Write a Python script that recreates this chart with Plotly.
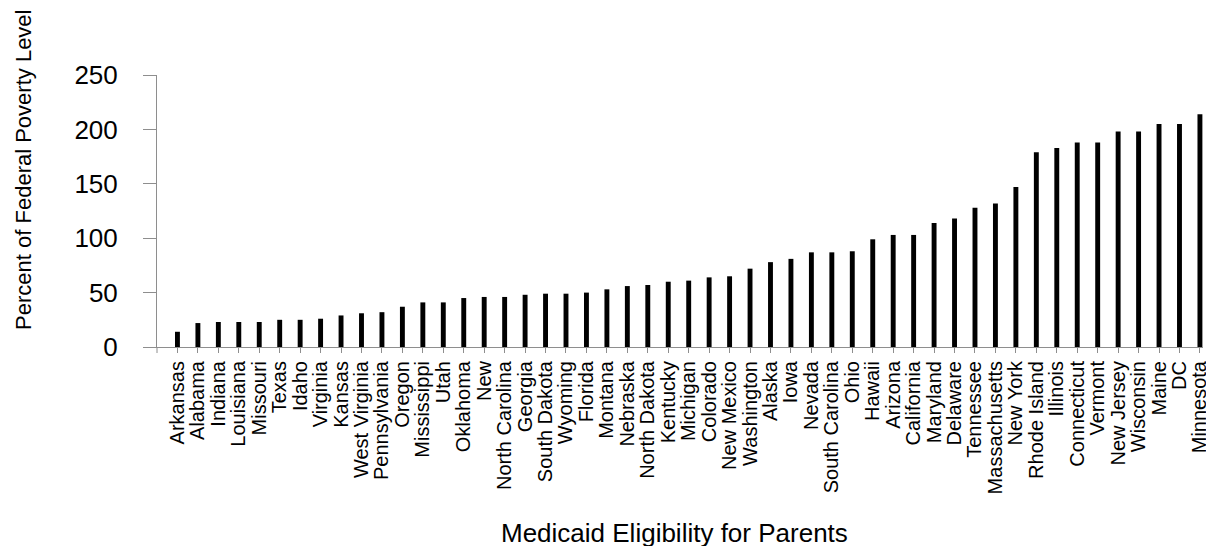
import plotly.graph_objects as go

states = ["Arkansas", "Alabama", "Indiana", "Louisiana", "Missouri", "Texas", "Idaho",
          "Virginia", "Kansas", "West Virginia", "Pennsylvania", "Oregon", "Mississippi",
          "Utah", "Oklahoma", "New", "North Carolina", "Georgia", "South Dakota", "Wyoming",
          "Florida", "Montana", "Nebraska", "North Dakota", "Kentucky", "Michigan", "Colorado",
          "New Mexico", "Washington", "Alaska", "Iowa", "Nevada", "South Carolina", "Ohio",
          "Hawaii", "Arizona", "California", "Maryland", "Delaware", "Tennessee",
          "Massachusetts", "New York", "Rhode Island", "Illinois", "Connecticut", "Vermont",
          "New Jersey", "Wisconsin", "Maine", "DC", "Minnesota"]

eligibility = [14, 22, 23, 23, 23, 25, 25, 26, 29, 31, 32, 37, 41, 41, 45, 46, 46, 48, 49, 49,
               50, 53, 56, 57, 60, 61, 64, 65, 72, 78, 81, 87, 87, 88, 99, 103, 103, 114, 118,
               128, 132, 147, 179, 183, 188, 188, 198, 198, 205, 205, 214]

y_ticks = [0, 50, 100, 150, 200, 250]

y_title = "Percent of Federal Poverty Level"
x_title = "Medicaid Eligibility for Parents"

FONT = "Liberation Sans, Arial, Helvetica, sans-serif"
AXIS = "#8e8e8e"

# page offset of the figure (default body margin)
OFF = 8
PLOT_L, PLOT_R, PLOT_T, PLOT_B = 157, 1210, 75, 347
PW, PH = PLOT_R - PLOT_L, PLOT_B - PLOT_T

fig = go.Figure(
    go.Bar(x=states, y=eligibility, width=0.24, marker=dict(color="black", line=dict(width=0)))
)

fig.update_layout(
    width=1214 - OFF, height=546 - OFF,
    margin=dict(l=PLOT_L - OFF, r=1214 - PLOT_R, t=PLOT_T - OFF, b=546 - PLOT_B, pad=0),
    paper_bgcolor="white", plot_bgcolor="white",
    font=dict(family=FONT, color="black"),
    showlegend=False,
    shapes=[
        # boundary tick of the category axis, at the corner under the value axis
        dict(type="line", xref="paper", yref="paper", x0=0, x1=0, y0=0, y1=-6 / PH,
             line=dict(color=AXIS, width=1)),
    ],
    annotations=[
        dict(text=y_title, xref="paper", yref="paper",
             x=(22 - PLOT_L) / PW, y=(PLOT_B - 170) / PH, textangle=-90,
             showarrow=False, xanchor="center", yanchor="middle",
             font=dict(size=22, family=FONT, color="black")),
        dict(text=x_title, xref="paper", yref="paper",
             x=(678 - PLOT_L) / PW, y=(PLOT_B - 533) / PH,
             showarrow=False, xanchor="center", yanchor="middle",
             font=dict(size=26, family=FONT, color="black")),
    ],
)

fig.update_xaxes(
    type="category", range=[-1, 50.15],
    tickmode="array", tickvals=states, ticktext=states,
    showline=True, linecolor=AXIS, linewidth=1,
    ticks="outside", ticklen=5, tickcolor=AXIS, tickwidth=1,
    tickangle=-90, tickfont=dict(size=20, family=FONT, color="black"),
    showgrid=False, zeroline=False,
)

fig.update_yaxes(
    range=[0, 250], tickvals=y_ticks,
    showline=True, linecolor=AXIS, linewidth=1,
    ticks="outside", ticklen=13, tickcolor=AXIS, tickwidth=1,
    ticklabelstandoff=20,
    tickfont=dict(size=26, family=FONT, color="black"),
    showgrid=False, zeroline=False,
)

fig.write_html("out.html")
